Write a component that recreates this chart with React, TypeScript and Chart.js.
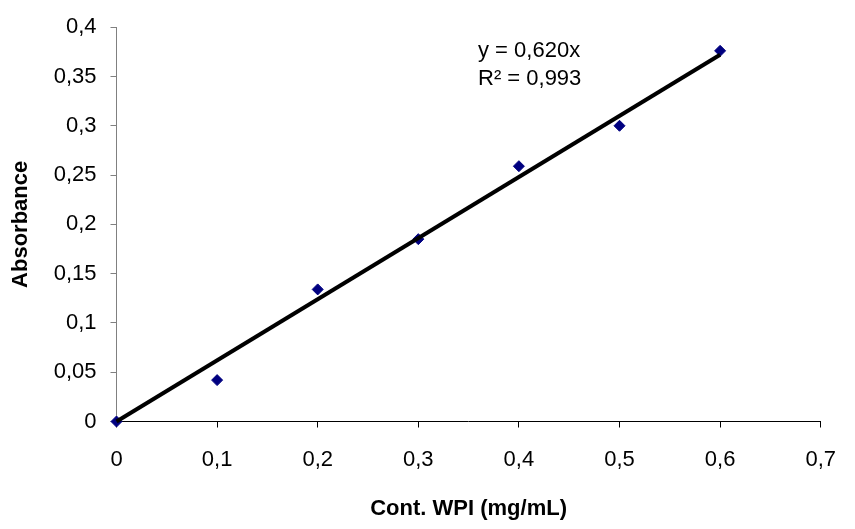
import React, { useEffect, useRef } from "react";
import { Chart, registerables } from "chart.js";

Chart.register(...registerables);

const concentrations = [0, 0.1, 0.2, 0.3, 0.4, 0.5, 0.6];
const absorbance = [0, 0.042, 0.134, 0.185, 0.259, 0.3, 0.376];
const trendX = [0, 0.6];
const trendY = [0, 0.372];
const xTickLabels = ["0", "0,1", "0,2", "0,3", "0,4", "0,5", "0,6", "0,7"];
const yTickLabels = ["0", "0,05", "0,1", "0,15", "0,2", "0,25", "0,3", "0,35", "0,4"];
const equationLines = ["y = 0,620x", "R² = 0,993"];
const xTitle = "Cont. WPI (mg/mL)";
const yTitle = "Absorbance";

const FONT = "'Liberation Sans', Arial, sans-serif";

export default function App() {
  const ref = useRef<HTMLCanvasElement | null>(null);

  useEffect(() => {
    document.body.style.margin = "0";
    const canvas = ref.current;
    if (!canvas) return;

    const equationPlugin = {
      id: "equation",
      afterDatasetsDraw(chart: any) {
        const ctx = chart.ctx;
        ctx.save();
        ctx.fillStyle = "#000";
        ctx.font = `22px ${FONT}`;
        ctx.textAlign = "left";
        ctx.textBaseline = "alphabetic";
        equationLines.forEach((t, i) => ctx.fillText(t, 478, 57 + i * 28));
        ctx.restore();
      },
    };

    const chart = new Chart(canvas, {
      type: "scatter",
      data: {
        datasets: [
          {
            type: "line",
            label: "trend",
            data: trendX.map((x, i) => ({ x, y: trendY[i] })),
            borderColor: "#000",
            borderWidth: 4,
            pointRadius: 0,
            fill: false,
            order: 0,
            clip: false,
          } as any,
          {
            label: "Absorbance",
            data: concentrations.map((x, i) => ({ x, y: absorbance[i] })),
            pointStyle: "rectRot",
            pointRadius: 5.5,
            backgroundColor: "#000080",
            borderColor: "#000080",
            borderWidth: 1,
            order: 1,
            clip: false,
          },
        ],
      },
      options: {
        animation: false,
        responsive: false,
        maintainAspectRatio: false,
        layout: { padding: { top: 21, right: 21, left: 0, bottom: 0 } },
        plugins: {
          legend: { display: false },
          tooltip: { enabled: false },
        },
        scales: {
          x: {
            type: "linear",
            min: 0,
            max: 0.7,
            afterFit(scale: any) {
              scale.height = 107.5;
            },
            ticks: {
              stepSize: 0.1,
              color: "#000",
              font: { family: FONT, size: 22 },
              padding: 19,
              maxRotation: 0,
              callback: (_v: any, i: number) => xTickLabels[i],
            },
            grid: {
              display: true,
              drawOnChartArea: false,
              drawTicks: true,
              tickLength: 6,
              color: "#000",
            },
            border: { display: true, color: "#000", width: 1 },
            title: {
              display: true,
              text: xTitle,
              color: "#000",
              font: { family: FONT, size: 22, weight: "bold" },
              padding: { top: 0, bottom: 7 },
            },
          },
          y: {
            type: "linear",
            min: 0,
            max: 0.4,
            afterFit(scale: any) {
              scale.width = 116.5;
            },
            ticks: {
              stepSize: 0.05,
              color: "#000",
              font: { family: FONT, size: 22 },
              padding: 14,
              callback: (_v: any, i: number) => yTickLabels[i],
            },
            grid: {
              display: true,
              drawOnChartArea: false,
              drawTicks: true,
              tickLength: 6,
              color: "#808080",
            },
            border: { display: true, color: "#808080", width: 1 },
            title: {
              display: true,
              text: yTitle,
              color: "#000",
              font: { family: FONT, size: 22, weight: "bold" },
              padding: { top: 8, bottom: 0 },
            },
          },
        },
      },
      plugins: [equationPlugin],
    } as any);

    return () => chart.destroy();
  }, []);

  return <canvas ref={ref} width={855} height={529} style={{ display: "block", width: 855, height: 529 }} />;
}
